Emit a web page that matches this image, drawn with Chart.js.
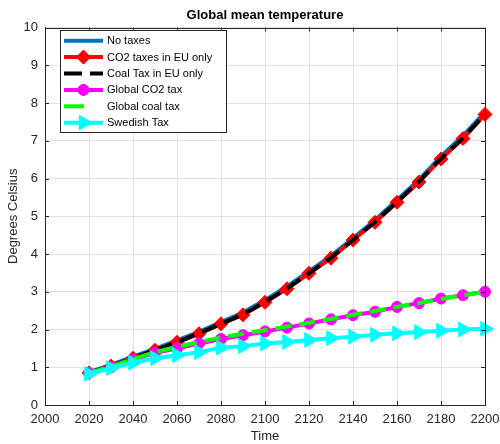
<!DOCTYPE html>
<html>
<head>
<meta charset="utf-8">
<title>Global mean temperature</title>
<script src="https://cdn.jsdelivr.net/npm/chart.js@4.4.1/dist/chart.umd.min.js"></script>
<style>
  html, body { margin: 0; padding: 0; background: #fff; }
  canvas { display: block; }
</style>
</head>
<body>
<canvas id="tempChart" width="500" height="444"></canvas>
<script>
// Years on the x axis, one value every 10 years
const years = [2020, 2030, 2040, 2050, 2060, 2070, 2080, 2090, 2100, 2110,
               2120, 2130, 2140, 2150, 2160, 2170, 2180, 2190, 2200];

// Temperature rise (degrees Celsius)
const noTaxes    = [0.87, 1.06, 1.28, 1.49, 1.71, 1.94, 2.2, 2.45, 2.78, 3.14, 3.54, 3.95, 4.42, 4.9, 5.43, 5.97, 6.59, 7.14, 7.76];
const co2EU      = [0.85, 1.03, 1.24, 1.45, 1.66, 1.89, 2.15, 2.39, 2.72, 3.08, 3.49, 3.89, 4.37, 4.84, 5.37, 5.91, 6.52, 7.06, 7.7];
const coalEU     = [0.85, 1.03, 1.24, 1.45, 1.66, 1.9, 2.15, 2.4, 2.73, 3.09, 3.49, 3.9, 4.37, 4.85, 5.38, 5.92, 6.53, 7.07, 7.7];
const globalCO2  = [0.85, 1.0, 1.2, 1.38, 1.5, 1.63, 1.75, 1.85, 1.95, 2.05, 2.16, 2.27, 2.38, 2.47, 2.6, 2.7, 2.82, 2.91, 3.0];
const globalCoal = [0.85, 1.02, 1.22, 1.4, 1.54, 1.67, 1.79, 1.89, 1.98, 2.08, 2.18, 2.28, 2.39, 2.49, 2.6, 2.7, 2.81, 2.91, 3.0];
const swedish    = [0.82, 0.98, 1.12, 1.24, 1.32, 1.4, 1.52, 1.56, 1.63, 1.67, 1.72, 1.77, 1.81, 1.86, 1.9, 1.93, 1.97, 2.0, 2.02];

const xTicks = [2000, 2020, 2040, 2060, 2080, 2100, 2120, 2140, 2160, 2180, 2200];
const yTicks = [0, 1, 2, 3, 4, 5, 6, 7, 8, 9, 10];

const FONT = "'Liberation Sans', Arial, Helvetica, sans-serif";
const AXIS = '#262626';

// Turns two arrays into {x, y} points for a linear x axis
function pts(values) {
    return years.map((yr, i) => ({ x: yr, y: values[i] }));
}

const series = [
    { label: 'No taxes', data: noTaxes, color: '#0072BD', dash: [], marker: null, order: 6 },
    { label: 'CO2 taxes in EU only', data: co2EU, color: '#FF0000', dash: [], marker: 'rectRot', r: 7, order: 5 },
    { label: 'Coal Tax in EU only', data: coalEU, color: '#000000', dash: [16, 8], marker: null, order: 4 },
    { label: 'Global CO2 tax', data: globalCO2, color: '#FF00FF', dash: [], marker: 'circle', r: 5.5, order: 3 },
    { label: 'Global coal tax', data: globalCoal, color: '#00FF00', dash: [16, 8], marker: null, order: 2 },
    { label: 'Swedish Tax', data: swedish, color: '#00FFFF', dash: [], marker: 'triangle', r: 8.5, rot: 90, order: 1 }
];

// Box, inward ticks and the legend inside the axes, MATLAB style
const matlabLook = {
    id: 'matlabLook',
    afterDraw(chart) {
        const ctx = chart.ctx;
        const a = chart.chartArea;
        const xs = chart.scales.x, ys = chart.scales.y;
        ctx.save();
        ctx.strokeStyle = AXIS;
        ctx.lineWidth = 1;
        ctx.beginPath();
        ctx.rect(Math.round(a.left) + 0.5, Math.round(a.top) + 0.5,
                 Math.round(a.right - a.left), Math.round(a.bottom - a.top));
        ctx.stroke();
        const tl = 4;
        ctx.beginPath();
        xTicks.forEach(v => {
            const px = Math.round(xs.getPixelForValue(v)) + 0.5;
            ctx.moveTo(px, a.bottom); ctx.lineTo(px, a.bottom - tl);
            ctx.moveTo(px, a.top); ctx.lineTo(px, a.top + tl);
        });
        yTicks.forEach(v => {
            const py = Math.round(ys.getPixelForValue(v)) + 0.5;
            ctx.moveTo(a.left, py); ctx.lineTo(a.left + tl, py);
            ctx.moveTo(a.right, py); ctx.lineTo(a.right - tl, py);
        });
        ctx.stroke();

        // legend
        const lx = 60, ly = 30, lw = 166, lh = 102;
        ctx.fillStyle = '#fff';
        ctx.fillRect(lx, ly, lw, lh);
        ctx.strokeStyle = AXIS;
        ctx.strokeRect(lx + 0.5, ly + 0.5, lw, lh);
        ctx.font = '11px ' + FONT;
        ctx.textBaseline = 'middle';
        series.forEach((s, i) => {
            const y = 40.7 + i * 16.4;
            ctx.strokeStyle = s.color;
            ctx.lineWidth = 4;
            ctx.setLineDash(s.label === 'Global coal tax' ? [20, 30] : (s.dash.length ? [18, 8] : []));
            ctx.beginPath();
            ctx.moveTo(64, y); ctx.lineTo(103, y);
            ctx.stroke();
            ctx.setLineDash([]);
            if (s.marker) {
                ctx.fillStyle = s.color;
                ctx.lineWidth = 1;
                Chart.helpers.drawPoint(ctx, { pointStyle: s.marker, radius: s.r, rotation: s.rot || 0, borderWidth: 1 }, 83.5, y);
                ctx.fill();
            }
            ctx.fillStyle = '#000';
            ctx.fillText(s.label, 107, y + 0.5);
        });
        ctx.restore();
    }
};

new Chart(document.getElementById('tempChart'), {
    type: 'line',
    data: {
        datasets: series.map(s => ({
            label: s.label,
            data: pts(s.data),
            borderColor: s.color,
            backgroundColor: s.color,
            borderWidth: 4,
            borderDash: s.dash,
            tension: 0,
            pointStyle: s.marker || 'circle',
            pointRadius: s.marker ? s.r : 0,
            pointRotation: s.rot || 0,
            pointBorderWidth: 1,
            pointBackgroundColor: s.color,
            pointBorderColor: s.color,
            order: s.order,
            clip: false
        }))
    },
    options: {
        responsive: false,
        animation: false,
        devicePixelRatio: 1,
        layout: { padding: { left: 0, right: 15, top: 0, bottom: 0 } },
        plugins: {
            legend: { display: false },
            tooltip: { enabled: false },
            title: {
                display: true,
                text: 'Global mean temperature',
                fullSize: false,
                color: '#000',
                font: { family: FONT, size: 13, weight: 'bold' },
                padding: { top: 8, bottom: 4 }
            }
        },
        scales: {
            x: {
                type: 'linear',
                min: 2000,
                max: 2200,
                afterBuildTicks: sc => { sc.ticks = xTicks.map(v => ({ value: v })); },
                afterFit: sc => { sc.height = 39; sc.paddingLeft = 0; sc.paddingRight = 0; },
                ticks: { color: AXIS, font: { family: FONT, size: 13 }, padding: 7, maxRotation: 0, autoSkip: false,
                         callback: v => String(v) },
                grid: { color: '#e1e1e1', drawTicks: false },
                border: { display: true, color: AXIS },
                title: { display: true, text: 'Time', color: AXIS, font: { family: FONT, size: 13 }, padding: { top: 0, bottom: 0 } }
            },
            y: {
                min: 0,
                max: 10,
                afterBuildTicks: sc => { sc.ticks = yTicks.map(v => ({ value: v })); },
                afterFit: sc => { sc.width = 45; sc.paddingTop = 0; sc.paddingBottom = 0; },
                ticks: { color: AXIS, font: { family: FONT, size: 13 }, padding: 7, callback: v => String(v) },
                grid: { color: '#e1e1e1', drawTicks: false },
                border: { display: true, color: AXIS },
                title: { display: true, text: 'Degrees Celsius', color: AXIS, font: { family: FONT, size: 13 }, padding: { top: 6, bottom: 0 } }
            }
        }
    },
    plugins: [matlabLook]
});
</script>
</body>
</html>
